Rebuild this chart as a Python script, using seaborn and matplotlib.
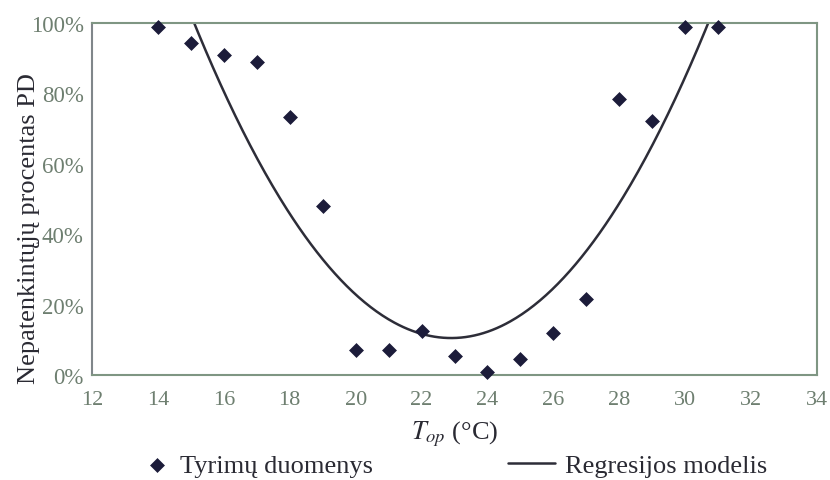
import numpy as np
import pandas as pd
import matplotlib
matplotlib.use("Agg")
import matplotlib.pyplot as plt
from matplotlib.ticker import PercentFormatter
import seaborn as sns

# Measured share of dissatisfied occupants vs. operative temperature
temperature = [14, 15, 16, 17, 18, 19, 20, 21, 22, 23, 24, 25, 26, 27, 28, 29, 30, 31]
dissatisfied = [0.99, 0.943, 0.909, 0.889, 0.733, 0.48, 0.071, 0.071, 0.125,
                0.054, 0.009, 0.045, 0.119, 0.216, 0.784, 0.722, 0.99, 0.99]

# Quadratic regression model: PD = a*(T - t0)^2 + pd_min
model_t0 = 22.9
model_pd_min = 0.105
model_a = 0.01471

x_ticks = [12, 14, 16, 18, 20, 22, 24, 26, 28, 30, 32, 34]
y_ticks = [0.0, 0.2, 0.4, 0.6, 0.8, 1.0]

sns.set_style("white")
plt.rcParams["font.family"] = ["Liberation Serif", "DejaVu Serif"]
plt.rcParams["mathtext.fontset"] = "stix"

spine_col = "#7f9683"
tick_col = "#6e7f70"
text_col = "#2a2a33"
mark_col = "#1c1c3a"
line_col = "#2d2d38"

points = pd.DataFrame({"T": temperature, "PD": dissatisfied})
t_curve = np.linspace(14.0, 32.0, 400)
curve = pd.DataFrame({"T": t_curve,
                      "PD": model_a * (t_curve - model_t0) ** 2 + model_pd_min})

fig = plt.figure(figsize=(8.3, 4.81), dpi=100)
ax = fig.add_axes([92 / 830, 1 - 376 / 481, 725 / 830, 352 / 481])

sns.lineplot(data=curve, x="T", y="PD", ax=ax, color=line_col, linewidth=1.8,
             label="Regresijos modelis", sort=False)
sns.scatterplot(data=points, x="T", y="PD", ax=ax, marker="D", s=50,
                color=mark_col, edgecolor=mark_col, linewidth=0.5,
                label="Tyrimų duomenys", zorder=3, clip_on=False)

ax.set_xlim(12, 34)
ax.set_ylim(0, 1)
ax.set_xticks(x_ticks)
ax.set_yticks(y_ticks)
ax.yaxis.set_major_formatter(PercentFormatter(1.0, decimals=0))

for s in ax.spines.values():
    s.set_color(spine_col)
    s.set_linewidth(1.5)
ax.spines["left"].set_color("#80868a")

ax.tick_params(axis="x", direction="in", length=5, width=1.2, color="#8a8f8c",
               labelsize=16, labelcolor=tick_col, pad=10.5)
ax.tick_params(axis="y", direction="in", length=5, width=1.2, color="#8a8f8c",
               labelsize=16.5, labelcolor=tick_col, pad=6)

ax.set_xlabel(r"$T_{op}$ (°C)", fontsize=19, color=text_col, labelpad=7)
ax.set_ylabel("Nepatenkintųjų procentas PD", fontsize=19, color=text_col)
ax.yaxis.set_label_coords(-0.072, 0.42)

handles, labels = ax.get_legend_handles_labels()
ax.get_legend().remove()
h_line, h_pts = handles[0], handles[1]

fig.legend(handles=[h_pts], labels=["Tyrimų duomenys"], loc="center left",
           bbox_to_anchor=(144 / 830, 1 - 466 / 481), frameon=False,
           fontsize=19, handlelength=1.0, handletextpad=0.37,
           borderpad=0, borderaxespad=0, labelcolor=text_col)
fig.legend(handles=[h_line], labels=["Regresijos modelis"], loc="center left",
           bbox_to_anchor=(508 / 830, 1 - 466 / 481), frameon=False,
           fontsize=19, handlelength=1.78, handletextpad=0.38,
           borderpad=0, borderaxespad=0, labelcolor=text_col)

fig.savefig("out.png", dpi=100)
